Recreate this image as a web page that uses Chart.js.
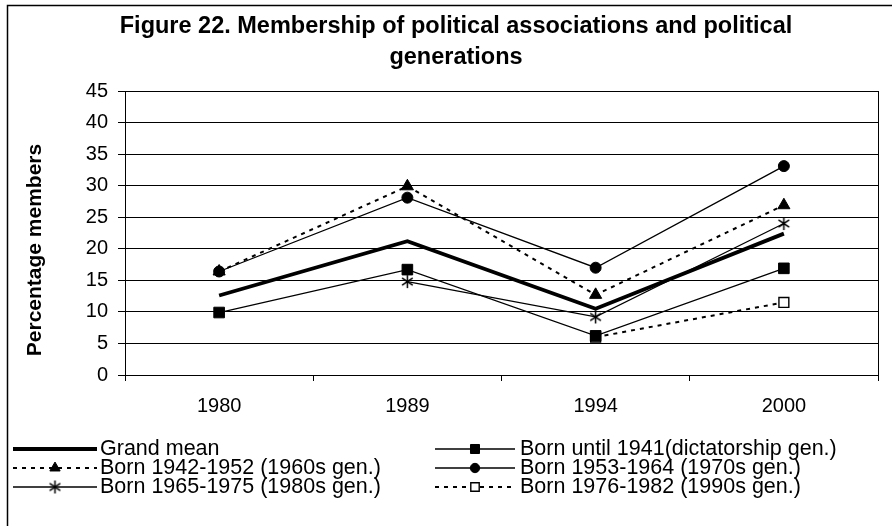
<!DOCTYPE html>
<html>
<head>
<meta charset="utf-8">
<title>Figure 22</title>
<script src="https://cdn.jsdelivr.net/npm/chart.js@4.4.0/dist/chart.umd.min.js"></script>
<style>
  html, body { margin: 0; padding: 0; background: #fff; }
  #wrap { width: 892px; height: 526px; }
</style>
</head>
<body>
<div id="wrap"><canvas id="genChart" width="892" height="526"></canvas></div>
<script>
// data
const years = ['1980', '1989', '1994', '2000'];
const grandMean     = [12.6, 21.2, 10.5, 22.4];
const bornUntil1941 = [9.9, 16.7, 6.2, 16.9];
const born1942_1952 = [16.4, 29.9, 12.7, 26.9];
const born1953_1964 = [16.4, 28.1, 17.0, 33.1];
const born1965_1975 = [null, 14.8, 9.2, 24.0];
const born1976_1982 = [null, null, 6.0, 11.5];
const yTicks = [0, 5, 10, 15, 20, 25, 30, 35, 40, 45];

const FONT = "'Liberation Sans', Arial, sans-serif";

// asterisk marker (X with a vertical stroke)
function makeStar(size) {
    const c = document.createElement('canvas');
    c.width = size; c.height = size;
    const g = c.getContext('2d');
    const m = size / 2, r = size / 2 - 1;
    g.strokeStyle = '#000';
    g.lineWidth = 1.5;
    g.beginPath();
    [90, 35, 145].forEach(function (deg) {
        const a = deg * Math.PI / 180;
        g.moveTo(m - Math.cos(a) * r, m - Math.sin(a) * r);
        g.lineTo(m + Math.cos(a) * r, m + Math.sin(a) * r);
    });
    g.stroke();
    return c;
}
const starImg = makeStar(15);

const datasets = [
    { label: 'Grand mean', data: grandMean, borderWidth: 3.8, pointRadius: 0, pointStyle: false },
    { label: 'Born until 1941(dictatorship gen.)', data: bornUntil1941, borderWidth: 1.3,
      pointStyle: 'rect', pointRadius: 7.5, backgroundColor: '#000' },
    { label: 'Born 1942-1952 (1960s gen.)', data: born1942_1952, borderWidth: 2, borderDash: [4, 5],
      pointStyle: 'triangle', pointRadius: 7, backgroundColor: '#000' },
    { label: 'Born 1953-1964 (1970s gen.)', data: born1953_1964, borderWidth: 1.3,
      pointStyle: 'circle', pointRadius: 5.5, backgroundColor: '#000' },
    { label: 'Born 1965-1975 (1980s gen.)', data: born1965_1975, borderWidth: 1.3,
      pointStyle: starImg, pointRadius: 7, backgroundColor: '#000' },
    { label: 'Born 1976-1982 (1990s gen.)', data: born1976_1982, borderWidth: 2, borderDash: [4, 5],
      pointStyle: 'rect', pointRadius: 7, backgroundColor: '#fff', pointBorderWidth: 1.4 }
];
datasets.forEach(function (d) {
    d.borderColor = '#000';
    d.pointBorderColor = '#000';
    d.pointBackgroundColor = d.backgroundColor || '#000';
    d.tension = 0;
    d.spanGaps = false;
    if (d.pointBorderWidth === undefined) d.pointBorderWidth = 1;
    d.pointHoverRadius = d.pointRadius;
});

// frame, plot border, titles and the two-column legend
const decorations = {
    id: 'decorations',
    beforeDraw: function (chart) {
        const ctx = chart.ctx;
        ctx.save();
        ctx.fillStyle = '#fff';
        ctx.fillRect(0, 0, chart.width, chart.height);
        ctx.strokeStyle = '#000';
        ctx.lineWidth = 1.5;
        ctx.strokeRect(7.5, 5.5, chart.width + 20, chart.height + 20);
        ctx.restore();
    },
    beforeDatasetsDraw: function (chart) {
        const a = chart.chartArea, ctx = chart.ctx;
        ctx.save();
        ctx.strokeStyle = '#000';
        ctx.lineWidth = 1;
        ctx.beginPath();
        ctx.moveTo(Math.round(a.right) + 0.5, a.top);
        ctx.lineTo(Math.round(a.right) + 0.5, a.bottom);
        ctx.stroke();
        ctx.restore();
    },
    afterDraw: function (chart) {
        const ctx = chart.ctx;
        ctx.save();
        ctx.fillStyle = '#000';
        ctx.textAlign = 'center';
        ctx.textBaseline = 'middle';
        ctx.font = 'bold 23.5px ' + FONT;
        ctx.fillText('Figure 22. Membership of political associations and political', 456, 27);
        ctx.fillText('generations', 456, 58);

        ctx.save();
        ctx.translate(35, 250);
        ctx.rotate(-Math.PI / 2);
        ctx.font = 'bold 21px ' + FONT;
        ctx.fillText('Percentage members', 0, 0);
        ctx.restore();

        // legend
        const cols = [{ x0: 13, x1: 97, tx: 100 }, { x0: 435, x1: 515, tx: 520 }];
        const rows = [449, 468, 487];
        ctx.textAlign = 'left';
        ctx.font = '21.5px ' + FONT;
        chart.data.datasets.forEach(function (d, i) {
            const c = cols[i % 2], y = rows[Math.floor(i / 2)];
            ctx.save();
            ctx.strokeStyle = '#000';
            ctx.lineWidth = d.borderWidth;
            ctx.setLineDash(d.borderDash || []);
            ctx.beginPath();
            ctx.moveTo(c.x0, y);
            ctx.lineTo(c.x1, y);
            ctx.stroke();
            ctx.restore();
            if (d.pointRadius > 0) {
                const mx = (c.x0 + c.x1) / 2;
                ctx.save();
                ctx.fillStyle = d.pointBackgroundColor;
                ctx.strokeStyle = '#000';
                ctx.lineWidth = d.pointBorderWidth;
                Chart.helpers.drawPoint(ctx, {
                    pointStyle: d.pointStyle, radius: d.pointRadius * 0.85,
                    rotation: 0, borderWidth: d.pointBorderWidth
                }, mx, y);
                ctx.restore();
            }
            ctx.fillStyle = '#000';
            ctx.fillText(d.label, c.tx, y);
        });
        ctx.restore();
    }
};

new Chart(document.getElementById('genChart'), {
    type: 'line',
    data: { labels: years, datasets: datasets },
    options: {
        responsive: false,
        animation: false,
        devicePixelRatio: 1,
        layout: { padding: { left: 0, top: 91, right: 14, bottom: 0 } },
        plugins: {
            legend: { display: false },
            title: { display: false },
            tooltip: { enabled: false }
        },
        scales: {
            x: {
                type: 'category',
                offset: true,
                afterFit: function (s) { s.height = 151; },
                grid: { display: true, offset: true, drawOnChartArea: false, drawTicks: true,
                        tickLength: 6, color: '#000', lineWidth: 1 },
                border: { display: true, color: '#000', width: 1 },
                ticks: { color: '#000', padding: 13, font: { family: FONT, size: 20 }, maxRotation: 0 }
            },
            y: {
                min: 0,
                max: 45,
                afterFit: function (s) { s.width = 125; },
                afterBuildTicks: function (s) { s.ticks = yTicks.map(function (v) { return { value: v }; }); },
                grid: { color: '#000', lineWidth: 1, tickLength: 7 },
                border: { display: true, color: '#000', width: 1 },
                ticks: { color: '#000', padding: 10, font: { family: FONT, size: 20 } }
            }
        }
    },
    plugins: [decorations]
});
</script>
</body>
</html>
